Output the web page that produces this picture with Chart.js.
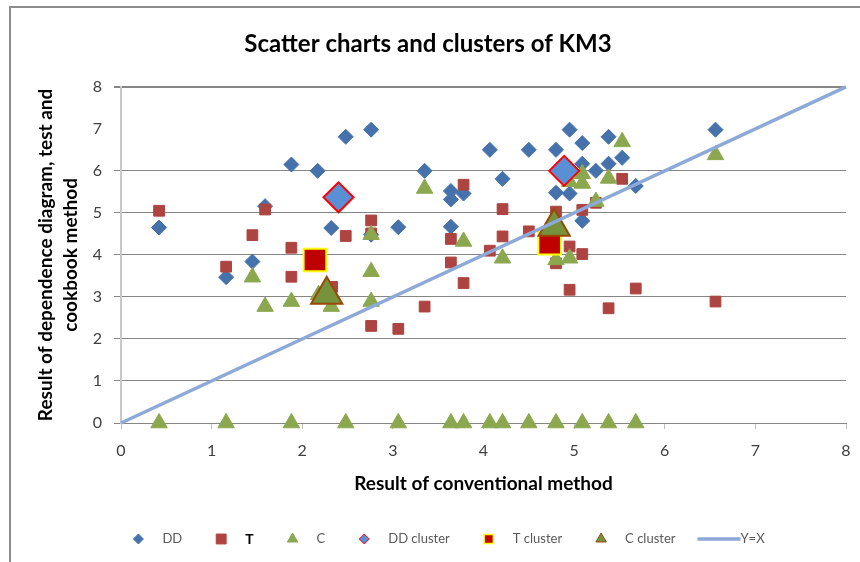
<!DOCTYPE html>
<html lang="en">
<head>
<meta charset="UTF-8">
<title>Scatter charts and clusters of KM3</title>
<script src="https://cdn.jsdelivr.net/npm/chart.js"></script>
<style>
  html, body { margin: 0; padding: 0; background: #fff; }
  .chart-box { width: 860px; height: 562px; }
</style>
</head>
<body>
<div class="chart-box"><canvas id="km3Chart" width="860" height="562"></canvas></div>
<script>
// values
const seriesNames = ['DD', 'T', 'C', 'DD cluster', 'T cluster', 'C cluster', 'Y=X'];
const xTickValues = [0, 1, 2, 3, 4, 5, 6, 7, 8];
const yTickValues = [0, 1, 2, 3, 4, 5, 6, 7, 8];

const ddX = [0.42, 1.16, 1.45, 1.59, 1.88, 2.17, 2.32, 2.48, 2.76, 2.76, 3.06, 3.35, 3.64, 3.64, 3.64, 3.78,
             4.07, 4.21, 4.50, 4.80, 4.80, 4.95, 4.95, 5.09, 5.09, 5.09, 5.24, 5.38, 5.38, 5.53, 5.68, 6.56];
const ddY = [4.65, 3.47, 3.84, 5.16, 6.15, 6.00, 4.64, 6.81, 6.98, 4.48, 4.66, 6.00, 5.52, 5.32, 4.67, 5.46,
             6.50, 5.81, 6.50, 6.50, 5.48, 6.98, 5.46, 6.66, 6.17, 4.81, 6.00, 6.81, 6.17, 6.31, 5.64, 6.98];

const tX = [0.42, 1.16, 1.45, 1.59, 1.88, 1.88, 2.33, 2.48, 2.76, 2.76, 2.76, 3.06, 3.35, 3.64, 3.64, 3.78,
            3.78, 4.07, 4.21, 4.21, 4.50, 4.80, 4.80, 4.95, 4.95, 5.09, 5.09, 5.24, 5.38, 5.53, 5.68, 6.56];
const tY = [5.05, 3.72, 4.47, 5.08, 4.17, 3.48, 3.24, 4.45, 4.82, 4.51, 2.31, 2.24, 2.77, 4.38, 3.82, 5.67,
            3.33, 4.10, 5.09, 4.44, 4.56, 5.03, 3.80, 4.20, 3.17, 5.07, 4.02, 5.24, 2.73, 5.81, 3.20, 2.89];

const cX = [0.42, 1.16, 1.45, 1.59, 1.88, 1.88, 2.18, 2.32, 2.48, 2.76, 2.76, 2.76, 3.06, 3.35, 3.64, 3.78, 3.78,
            4.07, 4.21, 4.21, 4.50, 4.80, 4.80, 4.95, 4.95, 5.09, 5.09, 5.09, 5.24, 5.38, 5.38, 5.53, 5.68, 6.56];
const cY = [0, 0, 3.47, 2.77, 2.89, 0, 3.05, 2.77, 0, 4.48, 3.60, 2.89, 0, 5.58, 0, 4.32, 0,
            0, 3.92, 0, 0, 3.88, 0, 5.74, 3.92, 5.93, 5.70, 0, 5.27, 5.82, 0, 6.69, 0, 6.38];

const ddClusterX = [2.40, 4.89];
const ddClusterY = [5.37, 6.00];
const tClusterX = [2.14, 4.73];
const tClusterY = [3.88, 4.28];
const cClusterX = [2.27, 4.78];
const cClusterY = [3.05, 4.67];

const diagX = [0, 8];
const diagY = [0, 8];

const FONT = 'Lato, "Open Sans", sans-serif';

function pts(xs, ys) {
    return xs.map((x, i) => ({ x: x, y: ys[i] }));
}

// Excel-like legend drawn under the plot
const excelLegend = {
    id: 'excelLegend',
    afterDraw(chart) {
        const ctx = chart.ctx;
        const y = 539;
        ctx.save();
        const items = chart.data.datasets.map(ds => {
            const bold = ds.label === 'T';
            ctx.font = (bold ? 'bold 14px ' : '13px ') + FONT;
            return { ds: ds, bold: bold, w: ctx.measureText(ds.label).width };
        });
        // first pass: positions relative to the first marker
        let x = 0, total = 0;
        items.forEach((it, i) => {
            if (it.ds.showLine) {
                x += (i ? 22 - 39 : 0);
                it.start = x;
                x += 43 + it.w;
            } else {
                it.start = x;
                x += 24 + it.w + 39;
            }
            total = x;
        });
        const offset = 454 - (total + 5) / 2;
        items.forEach(it => {
            const ds = it.ds;
            const cx = offset + it.start;
            ctx.fillStyle = ds.backgroundColor;
            ctx.strokeStyle = ds.borderColor;
            ctx.textBaseline = 'middle';
            if (ds.showLine) {
                ctx.lineWidth = 3.5;
                ctx.beginPath();
                ctx.moveTo(cx, y);
                ctx.lineTo(cx + 43, y);
                ctx.stroke();
                ctx.font = '13px ' + FONT;
                ctx.fillStyle = '#595959';
                ctx.fillText(ds.label, cx + 43, y);
                return;
            }
            ctx.lineWidth = ds.legendBorder;
            Chart.helpers.drawPoint(ctx, {
                pointStyle: ds.pointStyle, rotation: 0,
                radius: ds.legendRadius, borderWidth: ds.legendBorder
            }, cx, y);
            ctx.font = (it.bold ? 'bold 14px ' : '13px ') + FONT;
            ctx.fillStyle = it.bold ? '#000' : '#595959';
            ctx.fillText(ds.label, cx + 24, y);
        });
        ctx.restore();
    }
};

// white background and the outer frame of the chart
const chartFrame = {
    id: 'chartFrame',
    beforeDraw(chart) {
        const ctx = chart.ctx;
        ctx.save();
        ctx.fillStyle = '#fff';
        ctx.fillRect(0, 0, chart.width, chart.height);
        ctx.strokeStyle = '#8c8c8c';
        ctx.lineWidth = 2;
        ctx.strokeRect(10, 7, chart.width + 20, chart.height + 20);
        ctx.restore();
    }
};

// gridline styles per y tick (the 7 line is not drawn in the original, the top one is heavier)
const yGridColors = yTickValues.map(v => (v === 7 ? 'rgba(0,0,0,0)' : '#868686'));
const yGridWidths = yTickValues.map(v => (v === 8 ? 2 : 1));

const ctx = document.getElementById('km3Chart').getContext('2d');
new Chart(ctx, {
    type: 'scatter',
    data: {
        datasets: [
            { label: seriesNames[0], data: pts(ddX, ddY), pointStyle: 'rectRot', pointRadius: 7.5, borderWidth: 1,
              backgroundColor: '#4672AC', borderColor: '#4672AC', order: 7, legendRadius: 5, legendBorder: 1 },
            { label: seriesNames[1], data: pts(tX, tY), pointStyle: 'rect', pointRadius: 7.6, borderWidth: 1,
              backgroundColor: '#AD4441', borderColor: '#AD4441', order: 6, legendRadius: 7, legendBorder: 1 },
            { label: seriesNames[2], data: pts(cX, cY), pointStyle: 'triangle', pointRadius: 9.5, borderWidth: 1,
              backgroundColor: '#8BA84F', borderColor: '#8BA84F', order: 5, legendRadius: 6, legendBorder: 1 },
            { label: seriesNames[3], data: pts(ddClusterX, ddClusterY), pointStyle: 'rectRot', pointRadius: 15, borderWidth: 2,
              backgroundColor: '#5A8FD6', borderColor: '#FF0000', order: 4, legendRadius: 5, legendBorder: 1 },
            { label: seriesNames[4], data: pts(tClusterX, tClusterY), pointStyle: 'rect', pointRadius: 16, borderWidth: 2,
              backgroundColor: '#C00000', borderColor: '#FFFF00', order: 3, legendRadius: 6.5, legendBorder: 1.5 },
            { label: seriesNames[5], data: pts(cClusterX, cClusterY), pointStyle: 'triangle', pointRadius: 18, borderWidth: 2,
              backgroundColor: '#76923C', borderColor: '#984807', order: 2, legendRadius: 6, legendBorder: 1 },
            { label: seriesNames[6], data: pts(diagX, diagY), showLine: true, pointRadius: 0, borderWidth: 3.5,
              backgroundColor: '#8DA9D8', borderColor: '#8DA9D8', order: 1 }
        ]
    },
    options: {
        responsive: false,
        animation: false,
        // big cluster markers must not push the plot area in
        layout: { autoPadding: false, padding: { left: 10, right: 14, top: 0, bottom: 60 } },
        elements: { point: { hoverRadius: 0 } },
        datasets: { scatter: { clip: false } },
        plugins: {
            legend: { display: false },
            tooltip: { enabled: false },
            title: {
                display: true,
                text: 'Scatter charts and clusters of KM3',
                color: '#000',
                font: { family: FONT, size: 24, weight: 'bold' },
                padding: { top: 30, bottom: 28 }
            }
        },
        scales: {
            x: {
                type: 'linear', min: 0, max: 8,
                afterFit: s => { s.height = 79; },
                afterBuildTicks: s => { s.ticks = xTickValues.map(v => ({ value: v })); },
                grid: { drawOnChartArea: false, drawTicks: true, tickLength: 6, color: '#BFBFBF' },
                border: { color: '#868686', width: 1 },
                ticks: { color: '#404040', font: { family: FONT, size: 16, lineHeight: 2.5 }, padding: 2, maxRotation: 0 },
                title: {
                    display: true, text: 'Result of conventional method', color: '#000',
                    font: { family: FONT, size: 19, weight: 'bold', lineHeight: 1.2 }, padding: { bottom: 7 }
                }
            },
            y: {
                type: 'linear', min: 0, max: 8,
                afterFit: s => { s.width = 111; },
                afterBuildTicks: s => { s.ticks = yTickValues.map(v => ({ value: v })); },
                grid: { color: yGridColors, lineWidth: yGridWidths, tickColor: yGridColors, drawTicks: true, tickLength: 7 },
                border: { color: '#C8C8C8', width: 2 },
                ticks: { color: '#404040', font: { family: FONT, size: 16 }, padding: 12 },
                title: {
                    display: true, text: ['Result of dependence diagram, test and', 'cookbook method'], color: '#000',
                    font: { family: FONT, size: 19, weight: 'bold', lineHeight: 1.3 }, padding: { top: 24 }
                }
            }
        }
    },
    plugins: [chartFrame, excelLegend]
});
</script>
</body>
</html>
